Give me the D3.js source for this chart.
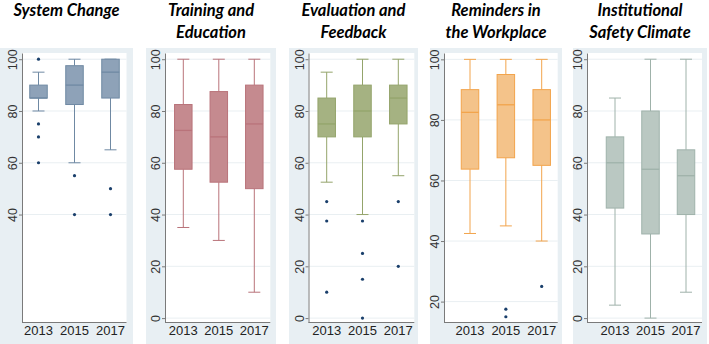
<!DOCTYPE html>
<html>
<head>
<meta charset="utf-8">
<script src="https://cdn.jsdelivr.net/npm/d3@7"></script>
<style>
  body { margin: 0; background: #fff; }
  svg { display: block; }
</style>
</head>
<body>
<div id="chart"></div>
<script>
// data (one row per panel, one value per year)
const years = ["2013", "2015", "2017"];
const titles = [
  ["System Change"],
  ["Training and", "Education"],
  ["Evaluation and", "Feedback"],
  ["Reminders in", "the Workplace"],
  ["Institutional", "Safety Climate"]
];
const whiskerLow = [[80, 60, 65], [35, 30, 10], [52.5, 40, 55], [42.5, 45, 40], [5, 0, 10]];
const q1 = [[85, 82.5, 85], [57.5, 52.5, 50], [70, 70, 75], [63.75, 67.5, 65], [42.5, 32.5, 40]];
const medians = [[85, 90, 95], [72.5, 70, 75], [75, 80, 85], [82.5, 85, 80], [60, 57.5, 55]];
const q3 = [[90, 97.5, 100], [82.5, 87.5, 90], [85, 90, 90], [90, 95, 90], [70, 80, 65]];
const whiskerHigh = [[95, 100, 100], [100, 100, 100], [95, 100, 100], [100, 100, 100], [85, 100, 100]];
const outliers = [
  [[100, 75, 70, 60], [55, 40], [50, 40]],
  [[], [], []],
  [[45, 37.5, 10], [37.5, 25, 15, 0], [45, 20]],
  [[], [17.5, 15], [25]],
  [[], [], []]
];
const yTicks = [
  [40, 60, 80, 100],
  [0, 20, 40, 60, 80, 100],
  [0, 20, 40, 60, 80, 100],
  [20, 40, 60, 80, 100],
  [0, 20, 40, 60, 80, 100]
];
const yDomains = [[-1.7, 102.4], [-1.7, 102.4], [-1.7, 102.4], [13.1, 102.1], [-1.7, 102.4]];

// layout of each panel
const panels = [
  {left: 0,   right: 133, axisX: 22,    first: 38.5,  last: 110.5},
  {left: 146, right: 276, axisX: 165,   first: 183.3, last: 254.3},
  {left: 289, right: 418, axisX: 308.5, first: 326.7, last: 398.3},
  {left: 430, right: 562, axisX: 444,   first: 470,   last: 541.7},
  {left: 573, right: 707, axisX: 587,   first: 615,   last: 686}
];
const fills = ["#8ea2b8", "#c58a8f", "#a5b282", "#f4c38a", "#bac8c2"];
const strokes = ["#6f89a3", "#b9737a", "#94a46b", "#f2a44c", "#9fb2aa"];

const W = 709, H = 344;
const plotTop = 53, plotBottom = 322.5;
const boxW = 17.5, capW = 12;

const svg = d3.select("#chart")
  .append("svg")
    .attr("width", W)
    .attr("height", H);

panels.forEach(function(p, i) {
  const g = svg.append("g");
  const plotRight = p.last + 16;

  // panel background and white plot region
  g.append("rect")
    .attr("x", p.left).attr("y", 48)
    .attr("width", p.right - p.left).attr("height", H - 48)
    .attr("fill", "#e8eff3");
  g.append("rect")
    .attr("x", p.axisX).attr("y", plotTop)
    .attr("width", plotRight - p.axisX).attr("height", plotBottom - plotTop)
    .attr("fill", "#fff");

  // titles
  g.append("text")
    .attr("x", (p.left + p.right) / 2)
    .attr("text-anchor", "middle")
    .style("font-family", "Lato, sans-serif")
    .style("font-weight", "bold")
    .style("font-style", "italic")
    .style("font-size", "16.5px")
    .selectAll("tspan")
    .data(titles[i])
    .enter()
    .append("tspan")
      .attr("x", (p.left + p.right) / 2)
      .attr("y", (d, j) => 16 + j * 22)
      .text(d => d);

  const x = d3.scalePoint()
    .domain(years)
    .range([p.first, p.last]);
  const y = d3.scaleLinear()
    .domain(yDomains[i])
    .range([plotBottom, plotTop]);

  // gridlines
  g.selectAll(".grid")
    .data(yTicks[i])
    .enter()
    .append("line")
      .attr("x1", p.axisX).attr("x2", plotRight)
      .attr("y1", d => y(d)).attr("y2", d => y(d))
      .attr("stroke", "#e9eff2")
      .attr("stroke-width", 1);

  // y axis
  const yAxis = g.append("g")
    .attr("transform", `translate(${p.axisX},0)`)
    .call(d3.axisLeft(y).tickValues(yTicks[i]).tickSize(3).tickSizeOuter(0));
  yAxis.select(".domain").attr("stroke", "#7a7a7a");
  yAxis.selectAll(".tick line").attr("stroke", "#7a7a7a");
  yAxis.selectAll("text")
    .attr("transform", "rotate(-90)")
    .attr("x", 0)
    .attr("y", -5)
    .attr("dy", 0)
    .style("text-anchor", "middle")
    .style("font-family", "'Liberation Sans', Arial, sans-serif")
    .style("font-size", "12.5px")
    .attr("fill", "#333");

  // bottom line and year labels
  g.append("line")
    .attr("x1", p.axisX).attr("x2", plotRight)
    .attr("y1", plotBottom).attr("y2", plotBottom)
    .attr("stroke", "#7a7a7a");
  g.selectAll(".year")
    .data(years)
    .enter()
    .append("text")
      .attr("x", d => x(d))
      .attr("y", 335)
      .attr("text-anchor", "middle")
      .style("font-family", "'Liberation Sans', Arial, sans-serif")
      .style("font-size", "13px")
      .attr("fill", "#222")
      .text(d => d);

  // boxes
  years.forEach(function(yr, k) {
    const cx = x(yr);
    const col = strokes[i];
    g.append("line")
      .attr("x1", cx).attr("x2", cx)
      .attr("y1", y(whiskerHigh[i][k])).attr("y2", y(q3[i][k]))
      .attr("stroke", col);
    g.append("line")
      .attr("x1", cx).attr("x2", cx)
      .attr("y1", y(q1[i][k])).attr("y2", y(whiskerLow[i][k]))
      .attr("stroke", col);
    [whiskerHigh[i][k], whiskerLow[i][k]].forEach(function(v) {
      g.append("line")
        .attr("x1", cx - capW / 2).attr("x2", cx + capW / 2)
        .attr("y1", y(v)).attr("y2", y(v))
        .attr("stroke", col);
    });
    g.append("rect")
      .attr("x", cx - boxW / 2)
      .attr("y", y(q3[i][k]))
      .attr("width", boxW)
      .attr("height", y(q1[i][k]) - y(q3[i][k]))
      .attr("fill", fills[i])
      .attr("stroke", col);
    g.append("line")
      .attr("x1", cx - boxW / 2).attr("x2", cx + boxW / 2)
      .attr("y1", y(medians[i][k])).attr("y2", y(medians[i][k]))
      .attr("stroke", col)
      .attr("stroke-width", 1.3);
    g.selectAll(".out" + k)
      .data(outliers[i][k])
      .enter()
      .append("circle")
        .attr("cx", cx)
        .attr("cy", d => y(d))
        .attr("r", 1.6)
        .attr("fill", "#1a3f6b");
  });
});
</script>
</body>
</html>
